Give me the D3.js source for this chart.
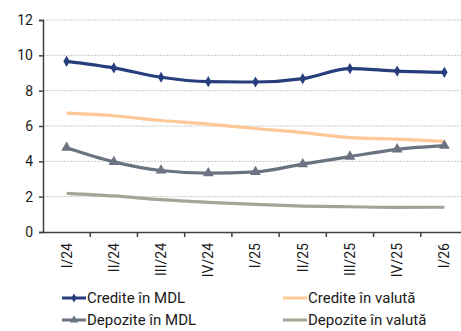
<!DOCTYPE html>
<html>
<head>
<meta charset="utf-8">
<script src="https://cdn.jsdelivr.net/npm/d3@7/dist/d3.min.js"></script>
<style>
  html, body { margin: 0; padding: 0; background: #fff; }
  svg { display: block; font-family: Roboto, "Noto Sans", sans-serif; }
</style>
</head>
<body>
<svg id="chart" width="461" height="331"></svg>
<script>
// Quarterly periods
const categories = ["I/24", "II/24", "III/24", "IV/24", "I/25", "II/25", "III/25", "IV/25", "I/26"];

// Series values (%)
const crediteMDL    = [9.66, 9.29, 8.76, 8.51, 8.49, 8.68, 9.25, 9.11, 9.04];
const crediteValuta = [6.73, 6.58, 6.31, 6.11, 5.86, 5.63, 5.34, 5.26, 5.13];
const depoziteMDL   = [4.77, 3.97, 3.48, 3.33, 3.40, 3.84, 4.27, 4.68, 4.89];
const depoziteValuta = [2.19, 2.04, 1.83, 1.68, 1.56, 1.47, 1.43, 1.39, 1.40];

const yTicks = [0, 2, 4, 6, 8, 10, 12];

const series = [
  { name: "Credite în MDL", values: crediteMDL, color: "#263f7c", marker: "diamond" },
  { name: "Credite în valută", values: crediteValuta, color: "#fdc896", marker: null },
  { name: "Depozite în MDL", values: depoziteMDL, color: "#6b7382", marker: "triangle" },
  { name: "Depozite în valută", values: depoziteValuta, color: "#a5a496", marker: null }
];

const svg = d3.select("#chart");
const margin = { left: 43, top: 20, bottom: 232 };
const plotRight = 468;

const x = d3.scaleBand().domain(categories).range([margin.left, plotRight]);
const y = d3.scaleLinear().domain([0, 12]).range([margin.bottom, margin.top]);

// Gridlines
svg.append("g")
  .selectAll("line")
  .data(yTicks.filter(d => d > 0))
  .join("line")
  .attr("x1", margin.left).attr("x2", plotRight)
  .attr("y1", d => y(d)).attr("y2", d => y(d))
  .attr("stroke", "#c8c8c8").attr("stroke-width", 1)
  .attr("stroke-dasharray", "2,1");

// Y axis
const yAxis = svg.append("g")
  .attr("transform", `translate(${margin.left},0)`)
  .call(d3.axisLeft(y).tickValues(yTicks).tickSize(4).tickPadding(6).tickFormat(d3.format("d")));
yAxis.select(".domain").attr("stroke", "#404040").attr("stroke-width", 1.5);
yAxis.selectAll(".tick line").attr("stroke", "#404040").attr("stroke-width", 1.5);
yAxis.selectAll("text").attr("font-size", 14).attr("fill", "#1a1a1a")
  .attr("font-family", "Roboto, sans-serif");

// X axis
const xAxis = svg.append("g")
  .attr("transform", `translate(0,${margin.bottom})`)
  .call(d3.axisBottom(x).tickSize(0).tickPadding(0));
xAxis.select(".domain").attr("stroke", "#404040").attr("stroke-width", 1.5);
xAxis.selectAll(".tick text")
  .attr("font-size", 14).attr("fill", "#1a1a1a")
  .attr("font-family", "Roboto, sans-serif")
  .attr("transform", "rotate(-90)")
  .attr("text-anchor", "end")
  .attr("dy", "0.35em")
  .attr("x", -11).attr("y", 0);
// Boundary ticks between categories
svg.append("g")
  .selectAll("line")
  .data(categories)
  .join("line")
  .attr("x1", d => x(d) + x.bandwidth()).attr("x2", d => x(d) + x.bandwidth())
  .attr("y1", margin.bottom).attr("y2", margin.bottom + 5)
  .attr("stroke", "#404040").attr("stroke-width", 1.5);

// Lines
const line = d3.line()
  .x((d, i) => x(categories[i]) + x.bandwidth() / 2)
  .y(d => y(d))
  .curve(d3.curveMonotoneX);

const diamond = d3.symbol().type(d3.symbolDiamond).size(36);
const triangle = d3.symbol().type(d3.symbolTriangle).size(50);

series.slice().reverse().forEach(s => {
  svg.append("path")
    .datum(s.values)
    .attr("fill", "none")
    .attr("stroke", s.color)
    .attr("stroke-width", 3.2)
    .attr("stroke-linejoin", "round")
    .attr("d", line);
});
series.forEach(s => {
  if (!s.marker) return;
  svg.append("g").selectAll("path")
    .data(s.values)
    .join("path")
    .attr("transform", (d, i) => `translate(${x(categories[i]) + x.bandwidth() / 2},${y(d)})`)
    .attr("d", s.marker === "diamond" ? diamond : triangle)
    .attr("fill", s.color);
});

// Legend
const legendPos = [
  { x: 62, y: 298 }, { x: 283, y: 298 },
  { x: 62, y: 320 }, { x: 283, y: 320 }
];
series.forEach((s, i) => {
  const p = legendPos[i];
  const g = svg.append("g").attr("transform", `translate(${p.x},${p.y})`);
  g.append("line").attr("x1", 0).attr("x2", 24).attr("y1", 0).attr("y2", 0)
    .attr("stroke", s.color).attr("stroke-width", 3);
  if (s.marker) {
    g.append("path").attr("transform", "translate(12,0)")
      .attr("d", s.marker === "diamond" ? d3.symbol().type(d3.symbolDiamond).size(24)
                                         : d3.symbol().type(d3.symbolTriangle).size(30))
      .attr("fill", s.color);
  }
  g.append("text").attr("x", 25).attr("y", 0).attr("dy", "0.35em")
    .attr("font-size", 15).attr("fill", "#1a1a1a").text(s.name);
});
</script>
</body>
</html>
